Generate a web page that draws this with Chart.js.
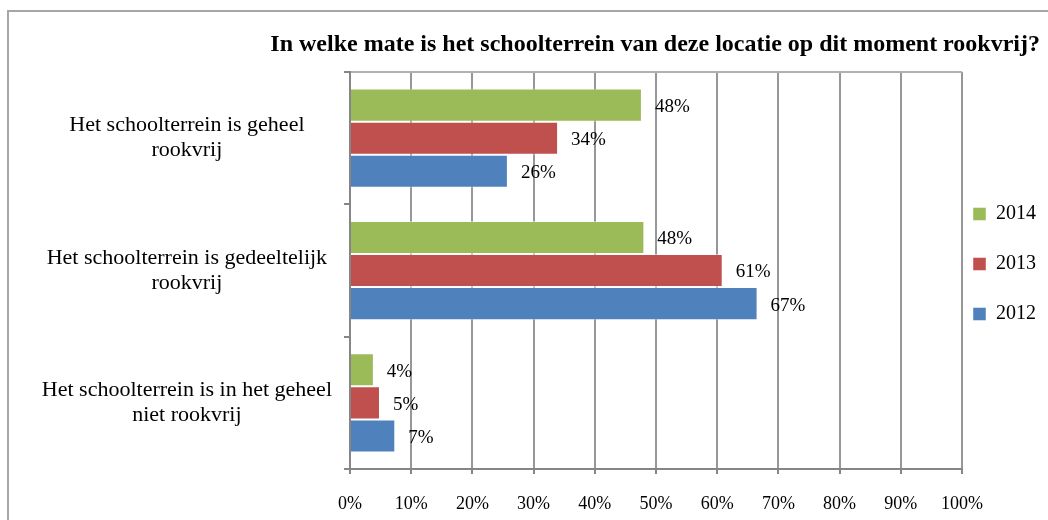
<!DOCTYPE html>
<html>
<head>
<meta charset="utf-8">
<script src="https://cdn.jsdelivr.net/npm/chart.js@4/dist/chart.umd.min.js"></script>
<style>
  html, body { margin: 0; padding: 0; background: #fff; overflow: hidden; }
  #wrap { position: relative; width: 1048px; height: 520px; }
  #frame { position: absolute; left: 7px; top: 10px; width: 1100px; height: 600px; border: 2px solid #a6a6a6; box-sizing: border-box; }
  canvas { position: absolute; left: 0; top: 0; }
</style>
</head>
<body>
<div id="wrap">
  <div id="frame"></div>
  <canvas id="c" width="1048" height="520"></canvas>
</div>
<script>
const titleText = 'In welke mate is het schoolterrein van deze locatie op dit moment rookvrij?';
const categories = [
  ['Het schoolterrein is geheel', 'rookvrij'],
  ['Het schoolterrein is gedeeltelijk', 'rookvrij'],
  ['Het schoolterrein is in het geheel', 'niet rookvrij']
];
const seriesNames = ['2014', '2013', '2012'];
const values2014 = [47.7, 48.1, 3.9];
const values2013 = [34.0, 60.9, 4.9];
const values2012 = [25.8, 66.6, 7.4];
const xTicks = [0, 10, 20, 30, 40, 50, 60, 70, 80, 90, 100];
const colors = ['#9BBB59', '#C0504D', '#4F81BD'];

const FONT = "'Liberation Serif', 'DejaVu Serif', serif";

const dataLabels = {
  id: 'dataLabels',
  afterDatasetsDraw(chart) {
    const ctx = chart.ctx;
    ctx.save();
    ctx.font = '19px ' + FONT;
    ctx.fillStyle = '#000';
    ctx.textAlign = 'left';
    ctx.textBaseline = 'middle';
    chart.data.datasets.forEach((ds, di) => {
      const meta = chart.getDatasetMeta(di);
      meta.data.forEach((bar, i) => {
        ctx.fillText(Math.round(ds.data[i]) + '%', bar.x + 13, bar.y + 2);
      });
    });
    ctx.restore();
  }
};

const legendShift = {
  id: 'legendShift',
  afterLayout(chart) {
    const lg = chart.legend;
    if (!lg) return;
    lg.left -= 19;
    lg.right = 1048;
    lg.top -= 7; lg.bottom -= 7;
  }
};

new Chart(document.getElementById('c'), {
  type: 'bar',
  data: {
    labels: categories,
    datasets: [
      { label: seriesNames[0], data: values2014, backgroundColor: colors[0] },
      { label: seriesNames[1], data: values2013, backgroundColor: colors[1] },
      { label: seriesNames[2], data: values2012, backgroundColor: colors[2] }
    ].map(d => Object.assign(d, { borderColor: 'rgba(255,255,255,0.45)', borderWidth: 1, categoryPercentage: 0.75, barPercentage: 1.0 }))
  },
  options: {
    indexAxis: 'y',
    responsive: false,
    animation: false,
    events: [],
    layout: { padding: { top: 30, right: 8, left: 8, bottom: 8 } },
    plugins: {
      title: {
        display: true,
        text: titleText,
        align: 'end',
        color: '#000',
        font: { family: FONT, size: 24, weight: 'bold', lineHeight: 1.2 },
        padding: { top: 0, bottom: 13.2 }
      },
      legend: {
        position: 'right',
        maxWidth: 78,
        labels: {
          boxWidth: 13,
          boxHeight: 13,
          padding: 30,
          color: '#000',
          font: { family: FONT, size: 20 }
        }
      },
      tooltip: { enabled: false }
    },
    scales: {
      x: {
        min: 0,
        max: 100,
        afterBuildTicks(scale) { scale.ticks = xTicks.map(v => ({ value: v })); },
        afterFit(scale) { scale.height = 43; },
        ticks: {
          callback: v => v + '%',
          color: '#000',
          padding: 19,
          font: { family: FONT, size: 18 }
        },
        grid: { color: '#979797', lineWidth: 2, tickLength: 5, tickColor: '#868686' },
        border: { color: '#868686', width: 2 }
      },
      y: {
        afterFit(scale) { scale.width = 342; },
        ticks: {
          crossAlign: 'center',
          padding: 12,
          color: '#000',
          font: { family: FONT, size: 22, lineHeight: 1.14 }
        },
        grid: {
          offset: true,
          color: c => (c.index === 0 ? '#b0b0b0' : 'rgba(0,0,0,0)'),
          lineWidth: 2,
          tickLength: 6,
          tickColor: '#868686'
        },
        border: { color: '#868686', width: 2 }
      }
    }
  },
  plugins: [dataLabels, legendShift]
});
</script>
</body>
</html>
